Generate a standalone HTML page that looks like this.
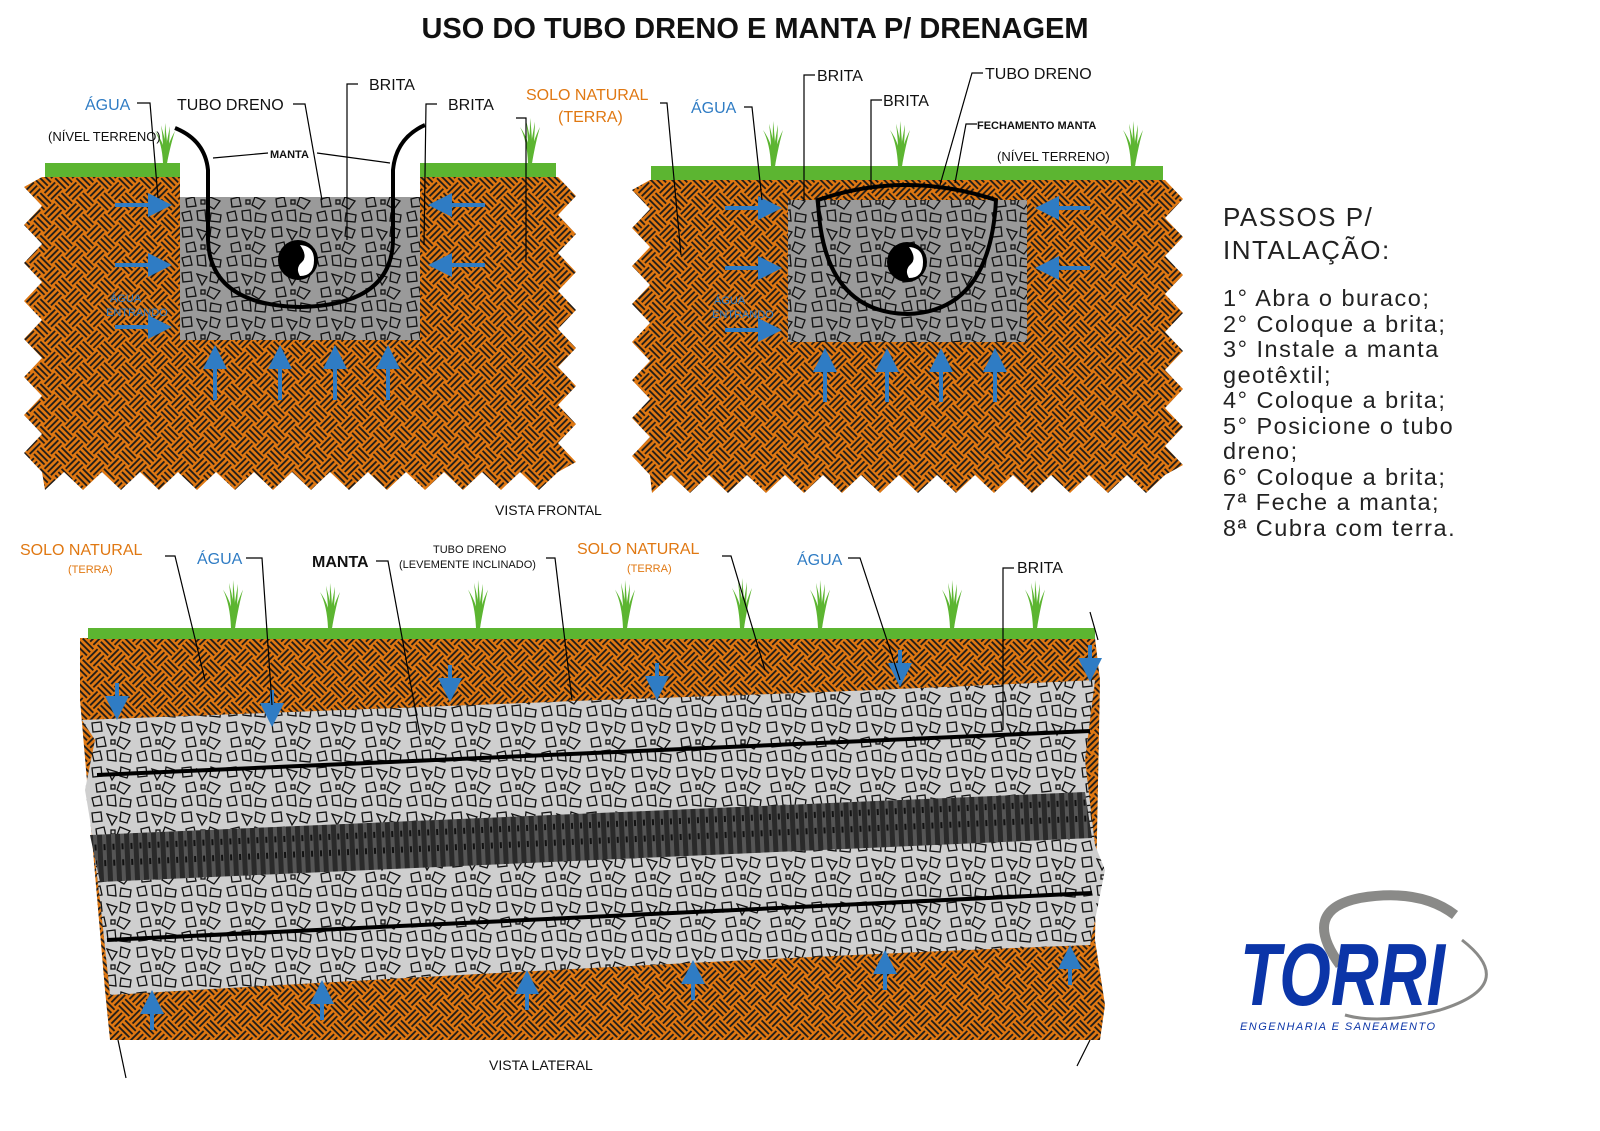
<!DOCTYPE html>
<html><head><meta charset="utf-8">
<style>
html,body{margin:0;padding:0;background:#fff;}
svg{display:block;}
text{font-family:"Liberation Sans",sans-serif;}
</style></head>
<body>
<svg id="s" width="1600" height="1131" viewBox="0 0 1600 1131" xmlns="http://www.w3.org/2000/svg">
<defs>
 <pattern id="soil" width="30" height="30" patternUnits="userSpaceOnUse" patternTransform="rotate(45)">
  <rect width="30" height="30" fill="#e07812"/>
  <g stroke="#1a1a1a" stroke-width="1.8">
   <line x1="0" y1="3" x2="15" y2="3"/><line x1="0" y1="7.5" x2="15" y2="7.5"/><line x1="0" y1="12" x2="15" y2="12"/>
   <line x1="18" y1="0" x2="18" y2="15"/><line x1="22.5" y1="0" x2="22.5" y2="15"/><line x1="27" y1="0" x2="27" y2="15"/>
   <line x1="3" y1="15" x2="3" y2="30"/><line x1="7.5" y1="15" x2="7.5" y2="30"/><line x1="12" y1="15" x2="12" y2="30"/>
   <line x1="15" y1="18" x2="30" y2="18"/><line x1="15" y1="22.5" x2="30" y2="22.5"/><line x1="15" y1="27" x2="30" y2="27"/>
  </g>
 </pattern>
 <g id="stones" fill="none" stroke="#111" stroke-width="1.3">
  <polygon points="2,3 11,2 12,11 3,12"/><polygon points="17,4 27,7 22,15"/><polygon points="31,2 40,5 37,13 30,11"/>
  <polygon points="6,19 14,17 16,26 7,27"/><rect x="21" y="20" width="4" height="4"/><polygon points="30,17 40,21 34,29 27,25"/>
  <polygon points="2,33 10,31 12,40 4,41"/><polygon points="17,31 25,30 26,41 18,40"/><polygon points="31,33 41,35 40,42 30,41"/>
 </g>
 <pattern id="brD" width="45" height="45" patternUnits="userSpaceOnUse">
  <rect width="45" height="45" fill="#9a9a9a"/><use href="#stones"/>
 </pattern>
 <pattern id="brL" width="45" height="45" patternUnits="userSpaceOnUse">
  <rect width="45" height="45" fill="#cfcfcf"/><use href="#stones"/>
 </pattern>
 <pattern id="pipe" width="9" height="40" patternUnits="userSpaceOnUse" patternTransform="rotate(-2.6)">
  <rect width="9" height="40" fill="#2a2a2a"/><rect x="1" y="0" width="4" height="40" fill="#555"/><rect x="2" y="8" width="2" height="6" fill="#111"/><rect x="2" y="24" width="2" height="6" fill="#111"/>
 </pattern>
 <marker id="ah" markerWidth="6" markerHeight="6" refX="3" refY="3" orient="auto" markerUnits="strokeWidth">
  <path d="M0,0 L6,3 L0,6 Z" fill="#2f7cc4"/>
 </marker>
</defs>

<text x="755" y="38" font-size="29" font-weight="bold" text-anchor="middle" fill="#111">USO DO TUBO DRENO E MANTA P/ DRENAGEM</text>

<path id="tl" fill="url(#soil)" d=""/>
<rect x="45" y="163" width="135" height="14" fill="#5cb531"/>
<rect x="420" y="163" width="136" height="14" fill="#5cb531"/>
<rect x="180" y="177" width="240" height="20" fill="#fff"/>
<rect x="180" y="197" width="240" height="143" fill="url(#brD)"/>
<path d="M175,128 Q205,140 208,170 L208,240 Q210,305 300,307 Q392,305 393,240 L393,170 Q396,138 425,125" fill="none" stroke="#000" stroke-width="4"/>
<circle cx="298" cy="260" r="20" fill="#000"/>
<path d="M300,245 Q314,246 314,260 Q314,276 300,276 Q295,268 302,262 Q308,256 300,245Z" fill="#fff"/>

<path id="tr" fill="url(#soil)" d=""/>
<rect x="651" y="166" width="512" height="14" fill="#5cb531"/>
<rect x="788" y="200" width="239" height="142" fill="url(#brD)"/>
<path d="M818,200 Q905,170 996,200 Q990,312 907,314 Q822,312 818,200Z" fill="none" stroke="#000" stroke-width="4"/>
<circle cx="907" cy="262" r="20" fill="#000"/>
<path d="M909,247 Q923,248 923,262 Q923,278 909,278 Q904,270 911,264 Q917,258 909,247Z" fill="#fff"/>

<path d="M80,638 L1095,638 L1100,680 L1095,940 L1105,1005 L1100,1040 L110,1040 L105,990 L80,700 Z" fill="url(#soil)"/>
<rect x="88" y="628" width="1007" height="11" fill="#5cb531"/>
<path d="M82,720 Q400,708 600,700 Q900,690 1095,680 L1085,760 L1095,845 L1105,870 L1090,945 Q700,960 110,995 L100,900 L90,820 L85,790 L95,740 Z" fill="url(#brL)"/>
<path d="M90,835 L1085,792 L1092,838 L100,882 Z" fill="url(#pipe)"/>
<line x1="97" y1="775" x2="1090" y2="731" stroke="#000" stroke-width="4"/>
<line x1="107" y1="940" x2="1092" y2="893" stroke="#000" stroke-width="4"/>
<line x1="118" y1="1040" x2="126" y2="1078" stroke="#000" stroke-width="1.2"/>
<line x1="1090" y1="1040" x2="1077" y2="1066" stroke="#000" stroke-width="1.2"/>
<line x1="1090" y1="612" x2="1098" y2="640" stroke="#000" stroke-width="1.2"/>

<g id="grass" fill="#5cb531"></g>

<g stroke="#2f7cc4" stroke-width="4" marker-end="url(#ah)" fill="none" id="arrows"></g>

<g fill="none" stroke="#000" stroke-width="1.2">
 <polyline points="137,103 150,103 158,198"/>
 <polyline points="293,104 305,104 322,200"/>
 <polyline points="358,84 347,84 347,240"/>
 <polyline points="437,104 426,104 424,245"/>
 <polyline points="660,103 667,103 681,255"/>
 <polyline points="516,118 526,118 526,260"/>
 <polyline points="213,158 268,153"/><polyline points="317,153 390,163"/>
 <polyline points="744,107 752,107 762,200"/>
 <polyline points="815,75 804,75 804,200"/>
 <polyline points="882,100 871,100 871,190"/>
 <polyline points="983,73 972,73 940,185"/>
 <polyline points="977,124 966,124 955,183"/>
 <polyline points="165,556 175,556 205,680"/>
 <polyline points="246,558 262,558 272,705"/>
 <polyline points="376,561 388,561 420,735"/>
 <polyline points="546,558 555,558 572,700"/>
 <polyline points="722,556 731,556 765,670"/>
 <polyline points="848,558 860,558 900,680"/>
 <polyline points="1014,568 1003,568 1003,730"/>
</g>

<g font-size="16" fill="#111">
 <text x="85" y="110" fill="#2f7cc4">ÁGUA</text>
 <text x="177" y="110">TUBO DRENO</text>
 <text x="369" y="90">BRITA</text>
 <text x="448" y="110">BRITA</text>
 <text x="526" y="100" fill="#e07812">SOLO NATURAL</text>
 <text x="558" y="122" fill="#e07812">(TERRA)</text>
 <text x="48" y="141" font-size="13">(NÍVEL TERRENO)</text>
 <text x="270" y="158" font-size="11" font-weight="bold">MANTA</text>
 <text x="691" y="113" fill="#2f7cc4">ÁGUA</text>
 <text x="817" y="81">BRITA</text>
 <text x="883" y="106">BRITA</text>
 <text x="985" y="79">TUBO DRENO</text>
 <text x="977" y="129" font-size="11" font-weight="bold">FECHAMENTO MANTA</text>
 <text x="997" y="161" font-size="13">(NÍVEL TERRENO)</text>
 <text x="495" y="515" font-size="14">VISTA FRONTAL</text>
 <text x="20" y="555" fill="#e07812">SOLO NATURAL</text>
 <text x="68" y="573" fill="#e07812" font-size="11">(TERRA)</text>
 <text x="197" y="564" fill="#2f7cc4">ÁGUA</text>
 <text x="312" y="567" font-weight="bold">MANTA</text>
 <text x="433" y="553" font-size="11">TUBO DRENO</text>
 <text x="399" y="568" font-size="11">(LEVEMENTE INCLINADO)</text>
 <text x="577" y="554" fill="#e07812">SOLO NATURAL</text>
 <text x="627" y="572" fill="#e07812" font-size="11">(TERRA)</text>
 <text x="797" y="565" fill="#2f7cc4">ÁGUA</text>
 <text x="1017" y="573">BRITA</text>
 <text x="489" y="1070" font-size="14">VISTA LATERAL</text>
 <text x="110" y="302" font-size="11" fill="#2f7cc4">ÁGUA</text>
 <text x="106" y="316" font-size="11" fill="#2f7cc4">ENTRANDO</text>
 <text x="714" y="304" font-size="11" fill="#2f7cc4">ÁGUA</text>
 <text x="712" y="318" font-size="11" fill="#2f7cc4">ENTRANDO</text>
</g>

<g font-size="23.5" fill="#222" letter-spacing="1.5">
 <text x="1223" y="226" font-size="26">PASSOS P/</text>
 <text x="1223" y="259" font-size="26">INTALAÇÃO:</text>
 <text x="1223" y="306">1° Abra o buraco;</text>
 <text x="1223" y="332">2° Coloque a brita;</text>
 <text x="1223" y="357">3° Instale a manta</text>
 <text x="1223" y="383">geotêxtil;</text>
 <text x="1223" y="408">4° Coloque a brita;</text>
 <text x="1223" y="434">5° Posicione o tubo</text>
 <text x="1223" y="459">dreno;</text>
 <text x="1223" y="485">6° Coloque a brita;</text>
 <text x="1223" y="510">7ª Feche a manta;</text>
 <text x="1223" y="536">8ª Cubra com terra.</text>
</g>

<path d="M1340,965 Q1300,910 1360,898 Q1420,888 1455,915" fill="none" stroke="#8a8a88" stroke-width="10"/>
<path d="M1462,940 Q1520,985 1440,1010 Q1380,1025 1345,1015" fill="none" stroke="#8a8a88" stroke-width="3"/>
<text x="1240" y="1005" font-size="88" font-weight="bold" font-style="italic" fill="#0b35a8" textLength="205" lengthAdjust="spacingAndGlyphs">TORRI</text>
<text x="1240" y="1030" font-size="11" font-style="italic" fill="#0b35a8" textLength="195">ENGENHARIA E SANEAMENTO</text>
</svg>
<script>
function zz(x0,x1,y0,y1,amp,per){
 var p=[],y,i;
 p.push([x0,y0]);
 for(var x=x0;x<=x1;x+=per){p.push([x,y0]);}
 for(y=y0,i=0;y<=y1;y+=per/2,i++){p.push([x1+(i%2?amp:0),y]);}
 for(var x=x1,i=0;x>=x0;x-=per/2,i++){p.push([x,y1+(i%2?amp:0)]);}
 for(y=y1,i=0;y>=y0;y-=per/2,i++){p.push([x0-(i%2?amp:0),y]);}
 return "M"+p.map(function(a){return a[0]+","+a[1]}).join(" L")+"Z";
}
document.getElementById('tl').setAttribute('d',zz(42,558,177,472,18,38));
document.getElementById('tr').setAttribute('d',zz(650,1165,180,475,18,38));
var g=document.getElementById('grass');
function grass(x,y,h){
 var s="";
 [[-10,-0.5],[-4,-0.15],[0,0],[5,0.2],[10,0.5]].forEach(function(b){
  s+='<path d="M'+(x-2)+','+y+' Q'+(x+b[0]*0.3)+','+(y-h*0.5)+' '+(x+b[0])+','+(y-h*(1-Math.abs(b[1])*0.4))+' Q'+(x+b[0]*0.3+3)+','+(y-h*0.5)+' '+(x+2)+','+y+'Z"/>';
 });
 return s;
}
var gs="";
[[165,163,40],[530,163,45],[773,166,45],[900,166,45],[1133,166,45],
 [233,628,48],[330,628,45],[478,628,48],[625,628,48],[742,628,50],[820,628,48],[952,628,48],[1035,628,48]].forEach(function(a){gs+=grass(a[0],a[1],a[2]);});
g.innerHTML=gs;
var A=document.getElementById('arrows'),as="";
function ar(x1,y1,x2,y2){as+='<line x1="'+x1+'" y1="'+y1+'" x2="'+x2+'" y2="'+y2+'"/>';}
[205,265,327].forEach(function(y){ar(115,y,160,y);});
[205,265].forEach(function(y){ar(485,y,440,y);});
[215,280,335,388].forEach(function(x){ar(x,400,x,357);});
[208,268,330].forEach(function(y){ar(725,y,770,y);});
[208,268].forEach(function(y){ar(1090,y,1047,y);});
[825,887,941,995].forEach(function(x){ar(x,402,x,360);});
[[117,683],[272,690],[450,665],[657,663],[900,650],[1090,645]].forEach(function(a){ar(a[0],a[1],a[0],a[1]+25);});
[[152,1030],[322,1020],[527,1010],[693,1000],[885,990],[1070,985]].forEach(function(a){ar(a[0],a[1],a[0],a[1]-28);});
A.innerHTML=as;
</script>
</body></html>
